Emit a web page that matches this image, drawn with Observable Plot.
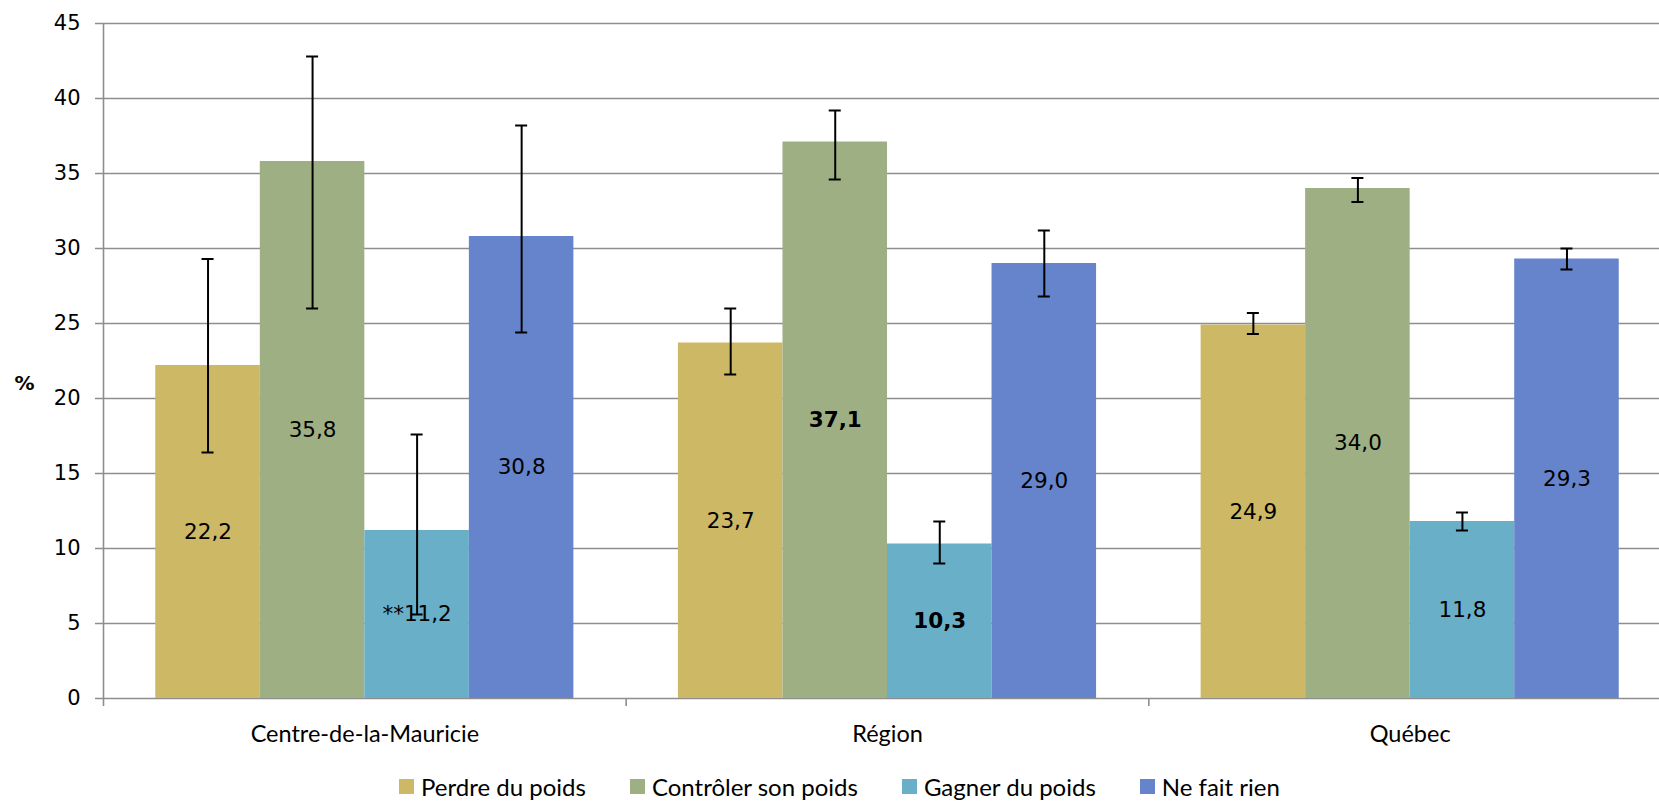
<!DOCTYPE html>
<html>
<head>
<meta charset="utf-8">
<script src="https://cdn.jsdelivr.net/npm/d3@7"></script>
<script src="https://cdn.jsdelivr.net/npm/@observablehq/plot@0.6"></script>
<style>
  html, body { margin: 0; padding: 0; background: #fff; overflow: hidden; width: 1659px; height: 802px; }
  #chart svg { display: block; overflow: visible; }
  #legend { display: flex; justify-content: center; align-items: center; height: 46px; box-sizing: border-box;
            padding-top: 14px; transform: translateX(10px);
            font-family: Lato, "Open Sans", sans-serif; font-size: 24px; color: #000; }
  #legend .item { display: flex; align-items: center; margin: 0 22px; }
  #legend .sw { width: 15px; height: 15px; margin-right: 7px; }
</style>
</head>
<body>
<div id="chart"></div>
<div id="legend"></div>
<script>
// ---- Data ----
const categories = ["Centre-de-la-Mauricie", "Région", "Québec"];
const series = ["Perdre du poids", "Contrôler son poids", "Gagner du poids", "Ne fait rien"];
const colors = ["#CDB866", "#9EB083", "#6AAFC8", "#6684CC"];

// values per series, in category order
const perdre    = [22.2, 23.7, 24.9];
const controler = [35.8, 37.1, 34.0];
const gagner    = [11.2, 10.3, 11.8];
const rien      = [30.8, 29.0, 29.3];

// confidence interval bounds per series
const perdreLow     = [16.4, 21.6, 24.3];
const perdreHigh    = [29.3, 26.0, 25.7];
const controlerLow  = [26.0, 34.6, 33.1];
const controlerHigh = [42.8, 39.2, 34.7];
const gagnerLow     = [5.6, 9.0, 11.2];
const gagnerHigh    = [17.6, 11.8, 12.4];
const rienLow       = [24.4, 26.8, 28.6];
const rienHigh      = [38.2, 31.2, 30.0];

// label annotations
const perdrePrefix    = ["", "", ""];
const controlerPrefix = ["", "", ""];
const gagnerPrefix    = ["**", "", ""];
const rienPrefix      = ["", "", ""];
const perdreBold    = [false, false, false];
const controlerBold = [false, true, false];
const gagnerBold    = [false, true, false];
const rienBold      = [false, false, false];

const yTicks = [0, 5, 10, 15, 20, 25, 30, 35, 40, 45];

// ---- Build table ----
const values = [perdre, controler, gagner, rien];
const lows = [perdreLow, controlerLow, gagnerLow, rienLow];
const highs = [perdreHigh, controlerHigh, gagnerHigh, rienHigh];
const prefixes = [perdrePrefix, controlerPrefix, gagnerPrefix, rienPrefix];
const bolds = [perdreBold, controlerBold, gagnerBold, rienBold];

const nS = series.length;
const slot = 1 / (nS + 1);       // gap width 100% (Excel style)
const rows = [];
categories.forEach((c, ci) => {
  series.forEach((s, si) => {
    const x1 = ci + slot * (si + 0.5);
    rows.push({
      category: c, series: s, x1, x2: x1 + slot, xc: x1 + slot / 2,
      value: values[si][ci], lo: lows[si][ci], hi: highs[si][ci],
      label: prefixes[si][ci] + values[si][ci].toFixed(1).replace(".", ","),
      bold: bolds[si][ci]
    });
  });
});
const bounds = d3.range(categories.length + 1);
const cap = 0.0115;
const gray = "#8e8e8e";
const labelFont = "'DejaVu Sans', Verdana, sans-serif";
const catFont = "Lato, 'Open Sans', sans-serif";

const chart = Plot.plot({
  width: 1659,
  height: 756,
  marginLeft: 103,
  marginRight: -12,
  marginTop: 23,
  marginBottom: 58,
  style: { background: "#fff", color: "#000", fontFamily: labelFont, fontSize: "20px" },
  x: { domain: [0, categories.length], axis: null },
  y: { domain: [0, 45], axis: null },
  color: { domain: series, range: colors },
  marks: [
    Plot.ruleY(yTicks, { stroke: gray, strokeWidth: 1.6, insetLeft: -8 }),
    Plot.ruleX([0], { y1: 0, y2: 45, stroke: gray, strokeWidth: 1.6 }),
    Plot.axisX(bounds, { tickSize: 8, stroke: gray, strokeWidth: 1.6, tickFormat: () => "", label: null }),
    Plot.axisY(yTicks, { tickSize: 0, tickPadding: 23, fontSize: 21, fontFamily: labelFont, fill: "#000", label: null }),
    Plot.rectY(rows, { x1: "x1", x2: "x2", y: "value", fill: "series" }),
    Plot.ruleX(rows, { x: "xc", y1: "lo", y2: "hi", stroke: "#000", strokeWidth: 2 }),
    Plot.ruleY(rows, { y: "lo", x1: d => d.xc - cap, x2: d => d.xc + cap, stroke: "#000", strokeWidth: 2 }),
    Plot.ruleY(rows, { y: "hi", x1: d => d.xc - cap, x2: d => d.xc + cap, stroke: "#000", strokeWidth: 2 }),
    Plot.text(rows.filter(d => !d.bold), { x: "xc", y: d => d.value / 2, text: "label", fill: "#000",
      fontSize: 21.5, fontFamily: labelFont }),
    Plot.text(rows.filter(d => d.bold), { x: "xc", y: d => d.value / 2, text: "label", fill: "#000",
      fontSize: 21.5, fontWeight: "bold", fontFamily: labelFont }),
    Plot.text(categories, { x: (d, i) => i + 0.5, y: () => 0, text: d => d, dy: 36, fill: "#000",
      fontSize: 23.5, fontFamily: catFont }),
    Plot.text(["%"], { frameAnchor: "left", dx: -89, dy: 23, fill: "#000", fontSize: 20,
      fontWeight: "bold", fontFamily: labelFont })
  ]
});
document.getElementById("chart").appendChild(chart);

// ---- Legend (below the chart) ----
const legend = d3.select("#legend");
series.forEach((s, i) => {
  const item = legend.append("div").attr("class", "item");
  item.append("div").attr("class", "sw").style("background", colors[i]);
  item.append("span").text(s);
});
</script>
</body>
</html>
